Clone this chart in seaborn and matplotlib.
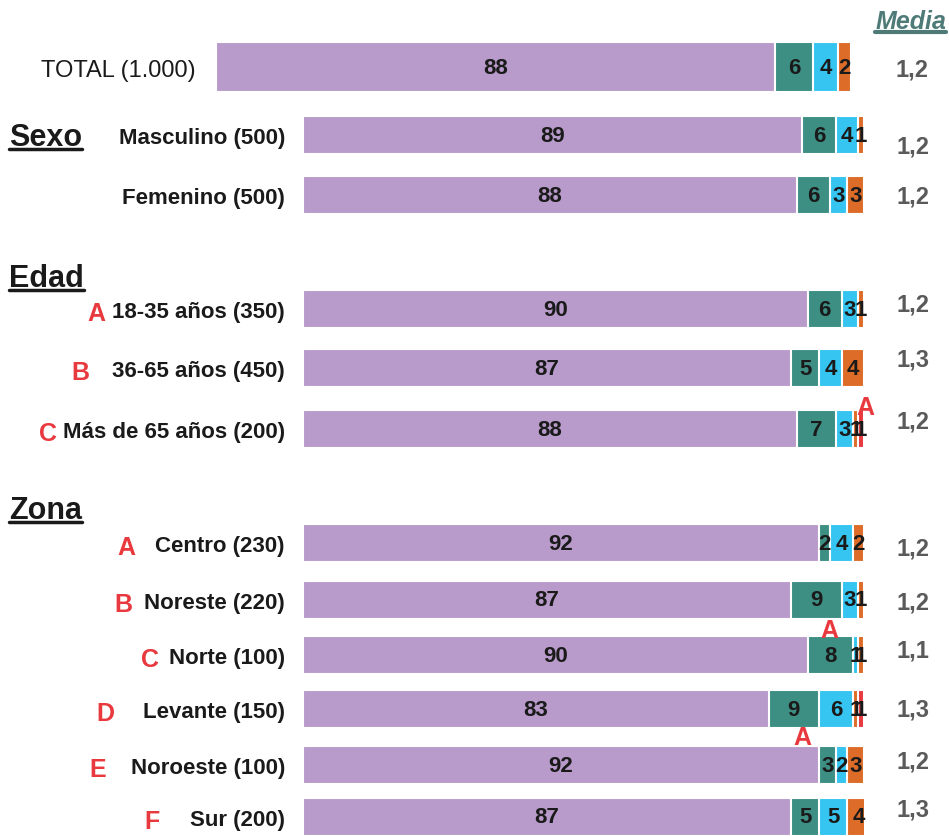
import numpy as np
import pandas as pd
import seaborn as sns
import matplotlib.pyplot as plt
from matplotlib.lines import Line2D

# ---- data ----
total_label = "TOTAL (1.000)"
total_values = [88, 6, 4, 2, 0]
total_media = "1,2"

groups = ["Sexo", "Edad", "Zona"]
rows = ["Masculino (500)", "Femenino (500)",
        "18-35 años (350)", "36-65 años (450)", "Más de 65 años (200)",
        "Centro (230)", "Noreste (220)", "Norte (100)", "Levante (150)",
        "Noroeste (100)", "Sur (200)"]
purple = [89, 88, 90, 87, 88, 92, 87, 90, 83, 92, 87]
teal = [6, 6, 6, 5, 7, 2, 9, 8, 9, 3, 5]
blue = [4, 3, 3, 4, 3, 4, 3, 1, 6, 2, 5]
orange = [1, 3, 1, 4, 1, 2, 1, 1, 1, 3, 4]
red = [0, 0, 0, 0, 1, 0, 0, 0, 1, 0, 0]
media = ["1,2", "1,2", "1,2", "1,3", "1,2", "1,2", "1,2", "1,1", "1,3", "1,2", "1,3"]
row_letters = ["", "", "A", "B", "C", "A", "B", "C", "D", "E", "F"]
# significance marks: (row, x value)
sig_marks = [("Más de 65 años (200)", 100.3),
             ("Noreste (220)", 93.8),
             ("Levante (150)", 89.0)]

# ---- layout (pixel rows from the top of the figure) ----
row_y = [136, 196, 310, 369, 430, 544, 601, 656, 710, 766, 818]
media_y = [147, 197, 305, 360, 422, 549, 603, 651, 710, 762, 810]
letter_x = [0, 0, 96, 80, 48, 126, 123, 150, 105, 98, 152]
sig_y = [408, 631, 738]
head_baseline = [146, 287, 519]

colors = ["#b89bca", "#3d8f84", "#36c5f0", "#dd6c28", "#e8393f"]
letter_red = "#e8393f"

W, H = 949, 837
sns.set_style("white")
plt.rcParams['font.family'] = ['Liberation Sans', 'DejaVu Sans']

fig = plt.figure(figsize=(W / 100, H / 100), dpi=100)


def px_axes(x0, y0, x1, y1):
    return fig.add_axes([x0 / W, 1 - y1 / H, (x1 - x0) / W, (y1 - y0) / H])


series = [purple, teal, blue, orange, red]
cum = np.cumsum(np.array(series), axis=0)

# ---- main stacked bars (y axis in figure pixels) ----
ax = px_axes(303, 0, 864, H)
for k in range(len(series) - 1, -1, -1):
    df = pd.DataFrame({"ypos": row_y, "cum": cum[k]})
    sns.barplot(data=df, x="cum", y="ypos", orient="y", native_scale=True,
                color=colors[k], width=0.72, edgecolor="white", linewidth=1.5,
                errorbar=None, saturation=1, ax=ax)
ax.set_xlim(0, 100)
ax.set_ylim(H, 0)
ax.set_xlabel("")
ax.set_ylabel("")
ax.set_xticks([])
ax.set_yticks(row_y, rows)
ax.patch.set_alpha(0)
sns.despine(ax=ax, left=True, bottom=True)
ax.tick_params(axis="y", length=0, pad=13)
for t in ax.get_yticklabels():
    t.set_fontweight("bold")
    t.set_fontsize(16)
    t.set_color("#1a1a1a")

for i, r in enumerate(rows):
    y = row_y[i]
    left = 0
    for k in range(len(series)):
        v = series[k][i]
        if v > 0:
            ax.text(left + v / 2, y, f"{v}", ha="center", va="center",
                    fontsize=16, fontweight="bold", color="#1a1a1a")
        left += v
    ax.text(108.7, media_y[i], media[i], ha="center", va="center", fontsize=17,
            fontweight="bold", color="#5a5a5a", clip_on=False)
    if row_letters[i]:
        fig.text(letter_x[i] / W, 1 - (y + 4) / H, row_letters[i], ha="center",
                 va="center", fontsize=18, fontweight="bold", color=letter_red)

for (r, xv), ys in zip(sig_marks, sig_y):
    ax.text(xv, ys, "A", ha="center", va="center", fontsize=18,
            fontweight="bold", color=letter_red, clip_on=False)

# ---- TOTAL bar ----
ax_t = px_axes(216, 43, 851, 93)
tcum = np.cumsum(total_values)
for k in range(len(total_values) - 1, -1, -1):
    sns.barplot(x=[tcum[k]], y=[total_label], color=colors[k], width=1.0,
                edgecolor="white", linewidth=1.5, errorbar=None, saturation=1,
                ax=ax_t)
ax_t.set_xlim(0, 100)
ax_t.set_ylim(0.5, -0.5)
ax_t.set_xticks([])
ax_t.set_xlabel("")
sns.despine(ax=ax_t, left=True, bottom=True)
ax_t.tick_params(axis="y", length=0, pad=15)
for t in ax_t.get_yticklabels():
    t.set_fontsize(17)
    t.set_color("#1a1a1a")
left = 0
for v in total_values:
    if v > 0:
        ax_t.text(left + v / 2, 0, f"{v}", ha="center", va="center", fontsize=16,
                  fontweight="bold", color="#1a1a1a")
    left += v
fig.text(912 / W, 1 - 70 / H, total_media, ha="center", va="center",
         fontsize=17, fontweight="bold", color="#5a5a5a")

# ---- headers ----
heads = []
for g, yb in zip(groups, head_baseline):
    t = fig.text(9 / W, 1 - yb / H, g, ha="left", va="baseline", fontsize=22,
                 fontweight="bold", color="#1a1a1a")
    heads.append((t, "#1a1a1a", 2.5))
t = fig.text(946 / W, 1 - 29 / H, "Media", ha="right", va="baseline", fontsize=18,
             fontweight="bold", style="italic", color="#4e7a78")
heads.append((t, "#4e7a78", 3))

fig.canvas.draw()
for t, c, lw in heads:
    bb = t.get_window_extent()
    _, yb = t.get_transform().transform(t.get_position())
    yl = (yb - 4) / H
    fig.add_artist(Line2D([bb.x0 / W, bb.x1 / W], [yl, yl], color=c, lw=lw))

fig.savefig("out.png", dpi=100, facecolor="white")
